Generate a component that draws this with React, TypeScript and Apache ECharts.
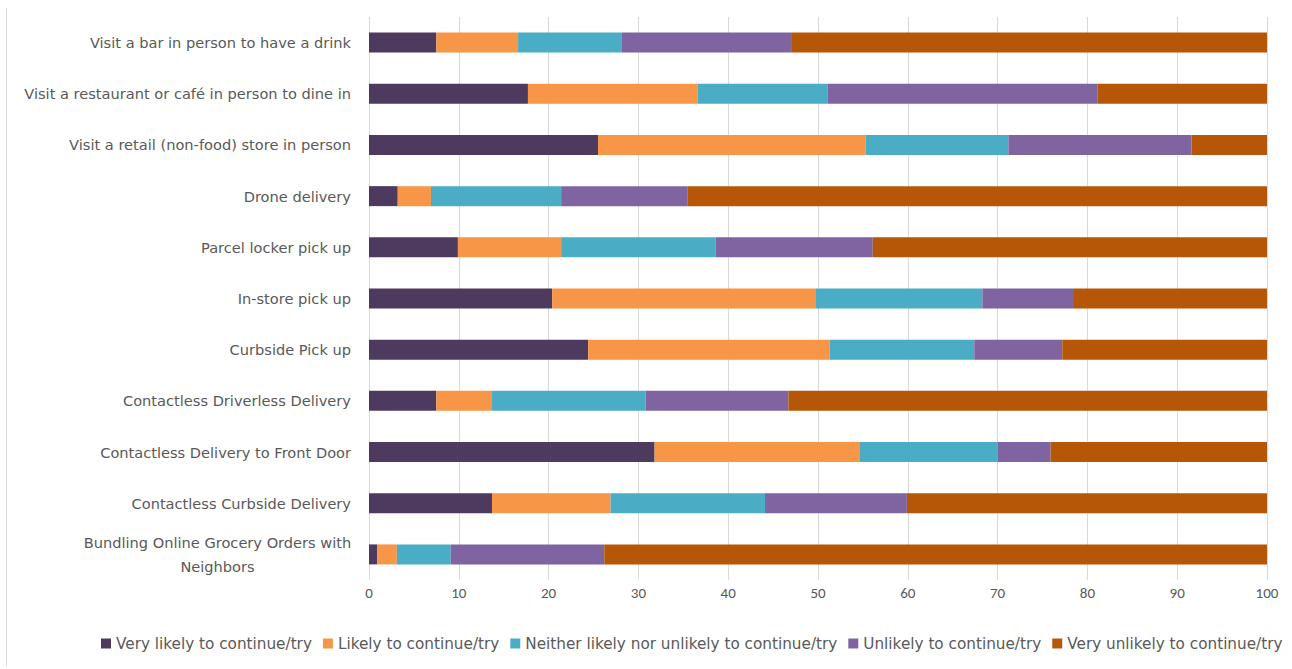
import React, { useEffect, useRef } from "react";
import * as echarts from "echarts";

const categories = [
  "Visit a bar in person to have a drink",
  "Visit a restaurant or café in person to dine in",
  "Visit a retail (non-food) store in person",
  "Drone delivery",
  "Parcel locker pick up",
  "In-store pick up",
  "Curbside Pick up",
  "Contactless Driverless Delivery",
  "Contactless Delivery to Front Door",
  "Contactless Curbside Delivery",
  "Bundling Online Grocery Orders with Neighbors",
];

const seriesNames = [
  "Very likely to continue/try",
  "Likely to continue/try",
  "Neither likely nor unlikely to continue/try",
  "Unlikely to continue/try",
  "Very unlikely to continue/try",
];

const veryLikely = [7.5, 17.7, 25.5, 3.2, 9.9, 20.4, 24.4, 7.5, 31.8, 13.7, 0.9];
const likely = [9.1, 18.9, 29.8, 3.7, 11.5, 29.3, 26.9, 6.2, 22.8, 13.2, 2.2];
const neither = [11.5, 14.5, 15.9, 14.5, 17.2, 18.6, 16.1, 17.1, 15.4, 17.2, 6.0];
const unlikely = [19.0, 30.0, 20.4, 14.1, 17.5, 10.1, 9.8, 15.9, 5.9, 15.8, 17.1];
const veryUnlikely = [52.9, 18.9, 8.4, 64.5, 43.9, 21.6, 22.8, 53.3, 24.1, 40.1, 73.8];

const colors = ["#4E3A5F", "#F79646", "#4BACC6", "#8064A2", "#B65708"];
const xTicks = [0, 10, 20, 30, 40, 50, 60, 70, 80, 90, 100];

const FONT = "Carlito, 'Liberation Sans', sans-serif";
const WIDE = "'DejaVu Sans', 'Liberation Sans', sans-serif";

export default function App() {
  const ref = useRef<HTMLDivElement>(null);
  useEffect(() => {
    if (!ref.current) return;
    const chart = echarts.init(ref.current, undefined, { renderer: "svg" });
    const values = [veryLikely, likely, neither, unlikely, veryUnlikely];
    chart.setOption({
      animation: false,
      backgroundColor: "#ffffff",
      textStyle: { fontFamily: FONT },
      grid: { left: 369, right: 25, top: 17, bottom: 89, containLabel: false },
      legend: {
        bottom: 18,
        left: 101,
        width: 1191,
        padding: 0,
        itemWidth: 10,
        itemHeight: 10,
        itemGap: 11,
        icon: "rect",
        textStyle: { fontFamily: WIDE, fontSize: 15.25, color: "#595959" },
        data: seriesNames,
      },
      xAxis: {
        type: "value",
        min: xTicks[0],
        max: xTicks[xTicks.length - 1],
        interval: 10,
        axisLine: { show: false },
        axisTick: { show: false },
        splitLine: { show: true, lineStyle: { color: "#D9D9D9", width: 1 } },
        axisLabel: { color: "#595959", fontSize: 15, fontFamily: FONT, margin: 5 },
      },
      yAxis: {
        type: "category",
        inverse: true,
        data: categories,
        axisLine: { show: false },
        axisTick: { show: false },
        axisLabel: {
          color: "#595959",
          fontSize: 14.6,
          fontFamily: WIDE,
          margin: 18,
          formatter: (v: string) =>
            v.startsWith("Bundling")
              ? "{c|Bundling Online Grocery Orders with}\n{c|Neighbors}"
              : v,
          rich: {
            c: { width: 267, align: "center", fontSize: 14.6, color: "#595959", fontFamily: WIDE, lineHeight: 24 },
          },
        },
      },
      series: seriesNames.map((name, i) => ({
        name,
        type: "bar",
        stack: "total",
        barWidth: 20,
        itemStyle: { color: colors[i] },
        data: values[i],
      })),
      graphic: [
        {
          type: "line",
          shape: { x1: 6.5, y1: 8, x2: 6.5, y2: 666 },
          style: { stroke: "#D9D9D9", lineWidth: 1 },
        },
      ],
    });
    return () => chart.dispose();
  }, []);
  return (
    <div
      ref={ref}
      style={{ position: "fixed", left: 0, top: 0, width: 1292, height: 669 }}
    />
  );
}
